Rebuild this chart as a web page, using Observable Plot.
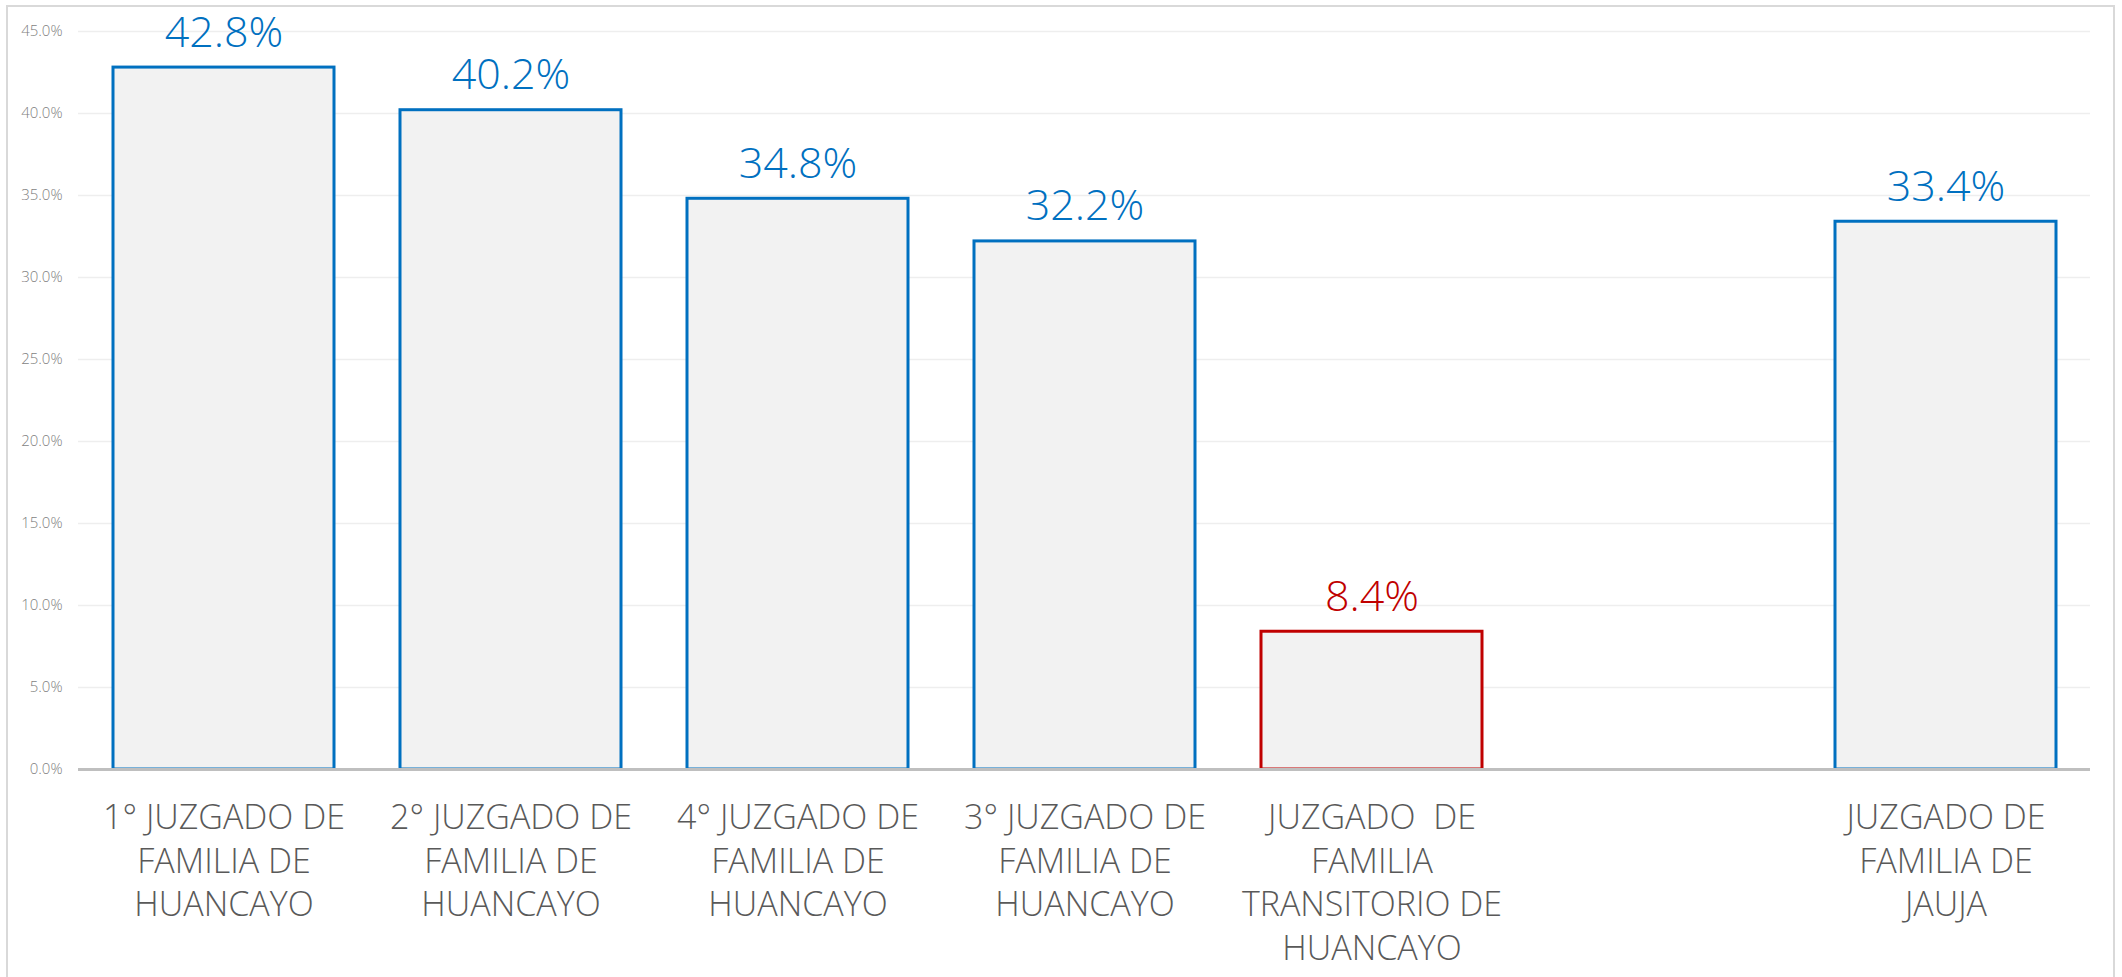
<!DOCTYPE html>
<html>
<head>
<meta charset="utf-8">
<script src="https://cdn.jsdelivr.net/npm/d3@7"></script>
<script src="https://cdn.jsdelivr.net/npm/@observablehq/plot@0.6"></script>
<style>
  html, body { margin: 0; padding: 0; background: #ffffff; overflow: hidden; width: 2122px; height: 977px; }
  #frame { position: absolute; left: 6px; top: 5px; width: 2109px; height: 1000px; box-sizing: border-box; border: 2px solid #d9d9d9; pointer-events: none; }
  #chart { position: absolute; left: 0; top: 0; }
  #chart svg text { font-weight: 300; }
</style>
</head>
<body>
<div id="chart"></div>
<div id="frame"></div>
<script>
const categories = [
  "1° JUZGADO DE\nFAMILIA DE\nHUANCAYO",
  "2° JUZGADO DE\nFAMILIA DE\nHUANCAYO",
  "4° JUZGADO DE\nFAMILIA DE\nHUANCAYO",
  "3° JUZGADO DE\nFAMILIA DE\nHUANCAYO",
  "JUZGADO  DE\nFAMILIA\nTRANSITORIO DE\nHUANCAYO",
  "",
  "JUZGADO DE\nFAMILIA DE\nJAUJA"
];
const values = [42.8, 40.2, 34.8, 32.2, 8.4, null, 33.4];
const highlighted = ["JUZGADO  DE\nFAMILIA\nTRANSITORIO DE\nHUANCAYO"];
const yTicks = [0, 5, 10, 15, 20, 25, 30, 35, 40, 45];

const BLUE = "#0070c0", RED = "#c00000";
const data = categories
  .map((c, i) => ({category: c, value: values[i]}))
  .filter(d => d.value != null);
const colorOf = d => highlighted.includes(d.category) ? RED : BLUE;

const chart = Plot.plot({
  width: 2122,
  height: 977,
  marginLeft: 78,
  marginRight: 32,
  marginTop: 31,
  marginBottom: 208,
  style: {fontFamily: "'Open Sans', sans-serif", background: "transparent", overflow: "visible"},
  x: {domain: categories, paddingInner: 0.23, paddingOuter: 0.115, axis: null},
  y: {domain: [0, 45], axis: null},
  color: {type: "identity"},
  marks: [
    Plot.ruleY(yTicks.slice(1), {stroke: "#eeeeee", strokeWidth: 1.5}),
    Plot.axisY(yTicks, {tickSize: 0, tickPadding: 16, tickFormat: d => d.toFixed(1) + "%", fontSize: 15, fill: "#7f7f7f", label: null}),
    Plot.axisX({tickSize: 0, tickPadding: 29, fontSize: 34, lineHeight: 1.28, fill: "#595959", tickFormat: d => d, label: null}),
    Plot.barY(data, {x: "category", y: "value", fill: "#f2f2f2", stroke: colorOf, strokeWidth: 3}),
    Plot.ruleY([0], {stroke: "#bfbfbf", strokeWidth: 3}),
    Plot.text(data, {x: "category", y: "value", text: d => d.value.toFixed(1) + "%", dy: -21, lineAnchor: "bottom", fontSize: 43, fill: colorOf})
  ]
});
document.getElementById("chart").appendChild(chart);
</script>
</body>
</html>
